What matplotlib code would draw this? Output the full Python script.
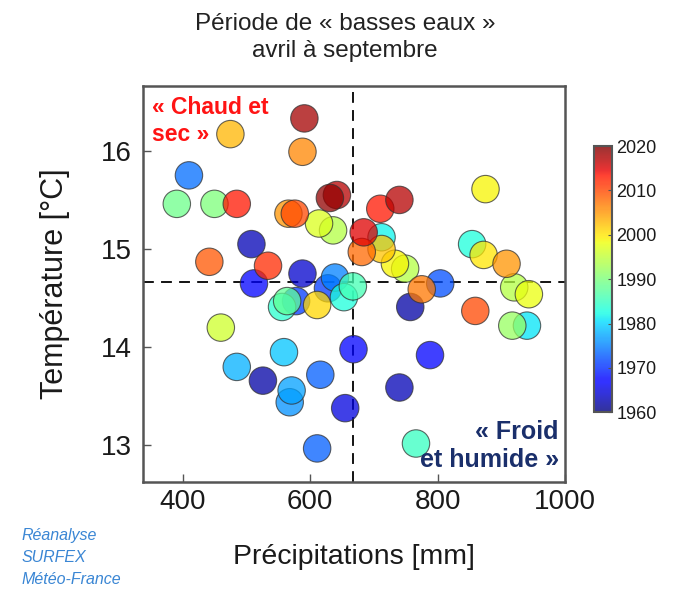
import matplotlib
matplotlib.use("Agg")
import matplotlib.pyplot as plt
from matplotlib.cm import ScalarMappable
from matplotlib.colors import Normalize
import numpy as np

plt.rcParams["font.family"] = ["Liberation Sans", "DejaVu Sans"]

# one entry per season (avril-septembre)
years = [1974, 1989, 1990, 2013, 2003, 2018, 2006, 2019, 2017, 2005,
         2010, 1997, 1994, 1963, 2012, 1967, 1964, 1984, 1988, 1971,
         2001, 1975, 1971, 1983, 1986, 2013, 2017, 2015, 2008, 1982,
         2002, 1999, 1994, 2007, 1972, 1962, 1999, 1983, 2000, 2005,
         1994, 1998, 2010, 1981, 1992, 1967, 1967, 1963, 1985, 1965,
         1996, 1978, 1979, 1962, 1976, 1977, 1973, 1973, 2009]
precip = [410, 391, 450, 485, 475, 591, 588, 631, 642, 566,
          576, 614, 636, 508, 534, 512, 588, 556, 564, 578,
          611, 639, 628, 653, 667, 710, 740, 684, 681, 712,
          712, 733, 749, 775, 804, 757, 875, 854, 872, 908,
          920, 943, 859, 940, 917, 668, 788, 740, 766, 655,
          460, 485, 559, 526, 568, 571, 616, 611, 442]
temp = [15.75, 15.46, 15.46, 15.46, 16.17, 16.33, 15.99, 15.52, 15.55, 15.36,
        15.36, 15.26, 15.19, 15.05, 14.83, 14.65, 14.75, 14.41, 14.47, 14.47,
        14.43, 14.71, 14.60, 14.51, 14.62, 15.41, 15.50, 15.17, 14.97, 15.12,
        15.00, 14.85, 14.80, 14.59, 14.65, 14.41, 15.61, 15.05, 14.94, 14.85,
        14.61, 14.54, 14.37, 14.22, 14.22, 13.98, 13.92, 13.59, 13.02, 13.38,
        14.20, 13.80, 13.95, 13.66, 13.44, 13.56, 13.72, 12.97, 14.87]

mean_precip = 667
mean_temp = 14.66

# later years drawn on top
order = np.argsort(years, kind="stable")
years = np.array(years)[order]
precip = np.array(precip)[order]
temp = np.array(temp)[order]

fig = plt.figure(figsize=(6.81, 5.89), dpi=100)
ax = fig.add_axes([0.21, 0.182, 0.62, 0.672])

norm = Normalize(1960, 2020)
ax.scatter(precip, temp, c=years, cmap="jet", norm=norm, s=390, alpha=0.75,
           edgecolors="#333333", linewidths=0.8, zorder=3)

ax.axhline(mean_temp, color="black", lw=1.3, ls=(0, (6, 4)), zorder=2)
ax.axvline(mean_precip, color="black", lw=1.3, ls=(0, (6, 4)), zorder=2)

ax.set_xlim(338, 1000)
ax.set_ylim(12.63, 16.66)
ax.set_xticks([400, 600, 800, 1000])
ax.set_yticks([13, 14, 15, 16])
ax.tick_params(direction="in", length=6, width=1, labelsize=20, color="#555555",
               labelcolor="#1a1a1a")
ax.tick_params(axis="y", pad=8)
ax.tick_params(axis="x", pad=5)
for sp in ax.spines.values():
    sp.set_color("#555555")
    sp.set_linewidth(1.8)

ax.set_xlabel("Précipitations [mm]", fontsize=20.5, labelpad=21, color="#1a1a1a")
ax.set_ylabel("Température [°C]", fontsize=22, labelpad=22, color="#1a1a1a")

ax.text(0.022, 0.975, "« Chaud et\nsec »", transform=ax.transAxes, ha="left", va="top",
        color="#ff1414", fontsize=16.5, fontweight="bold", linespacing=1.25)
ax.text(0.985, 0.025, "« Froid\net humide »", transform=ax.transAxes, ha="right", va="bottom",
        color="#1a2f6b", fontsize=18, fontweight="bold", linespacing=1.2)

fig.text(0.507, 0.978, "Période de « basses eaux »\navril à septembre", ha="center", va="top",
         fontsize=17.5, color="#222222", linespacing=1.3)

fig.text(0.032, 0.004, "Réanalyse\nSURFEX\nMétéo-France", ha="left", va="bottom",
         fontsize=11.5, style="italic", color="#3a86d4", linespacing=1.55)

cax = fig.add_axes([0.872, 0.30, 0.026, 0.452])
sm = ScalarMappable(norm=norm, cmap="jet")
cb = fig.colorbar(sm, cax=cax, alpha=0.8)
cb.set_ticks([1960, 1970, 1980, 1990, 2000, 2010, 2020])
cb.ax.tick_params(labelsize=13, direction="in", length=3, color="#555555", labelcolor="#1a1a1a")
cb.outline.set_edgecolor("#555555")
cb.outline.set_linewidth(1.5)

fig.savefig("out.png", dpi=100)
